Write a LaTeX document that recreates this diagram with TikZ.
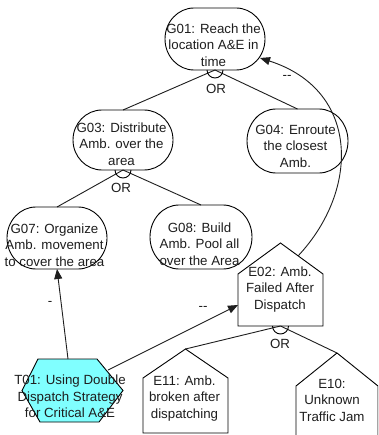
\documentclass[tikz,border=0pt]{standalone}
\usepackage{fontspec}
\setmainfont{Liberation Sans}
\usetikzlibrary{arrows.meta,calc}
\definecolor{tcyan}{RGB}{128,255,255}
\definecolor{ink}{RGB}{30,30,30}
\newcommand\stadout[3]{%
  \draw[outl] ([xshift=#2]#1.north west) -- ([xshift=-#2]#1.north east)
    arc[start angle=90,end angle=-90,x radius=#2,y radius=#3]
    -- ([xshift=#2]#1.south west)
    arc[start angle=270,end angle=90,x radius=#2,y radius=#3] -- cycle;}
\newcommand\houseout[2]{%
  \draw[outl] (#1.south west) -- ([yshift=-#2]#1.north west) -- (#1.north)
    -- ([yshift=-#2]#1.north east) -- (#1.south east) -- cycle;}
\newcommand\orarc[1]{%
  \draw[outl] ([xshift=-8pt]#1.south) arc[start angle=180,end angle=360,radius=8pt];}
\begin{document}
\begin{tikzpicture}[x=1pt,y=-1pt,
  txt/.style={font=\fontsize{13.3}{16.5}\selectfont, align=center, inner sep=0pt, text=ink},
  shapebox/.style={draw=none, inner sep=0pt, outer sep=0pt},
  outl/.style={draw=black, line width=0.9pt},
  conn/.style={draw=ink, line width=0.9pt},
  tip/.style={-{Triangle[length=10pt,width=8pt]}}
]
\useasboundingbox (0,0) rectangle (378,435);
\clip (0,0) rectangle (378,435);
\fill[white] (0,0) rectangle (378,435);

% goal boxes
\node[shapebox, minimum width=100pt, minimum height=62pt] (g01) at (215,39) {};
\node[shapebox, minimum width=100pt, minimum height=60pt] (g03) at (123,140) {};
\node[shapebox, minimum width=101pt, minimum height=64pt] (g04) at (297.5,141) {};
\node[shapebox, minimum width=100pt, minimum height=62pt] (g07) at (57,238) {};
\node[shapebox, minimum width=102pt, minimum height=64pt] (g08) at (201,237) {};
% events
\node[shapebox, minimum width=85pt, minimum height=83pt] (e02) at (280.5,284.5) {};
\node[shapebox, minimum width=85pt, minimum height=84pt] (e11) at (185.5,391) {};
\node[shapebox, minimum width=82pt, minimum height=87pt] (e10) at (337,396.5) {};
% task
\node[shapebox, minimum width=101pt, minimum height=63pt] (t01) at (72.5,390.5) {};

% connectors (behind shapes)
\draw[conn] (g01.south) -- (g03.north);
\draw[conn] (g01.south) -- (g04.north);
\draw[conn] (g03.south) -- (g07.north);
\draw[conn] (g03.south) -- (g08.north);
\draw[conn] (e02.south) -- (e11.north);
\draw[conn] (e02.south) -- (e10.north);

% outlines
\stadout{g01}{29pt}{31pt}
\stadout{g03}{29pt}{30pt}
\stadout{g04}{29pt}{32pt}
\stadout{g07}{29pt}{31pt}
\stadout{g08}{29pt}{32pt}
\houseout{e02}{31pt}
\houseout{e11}{29pt}
\houseout{e10}{33pt}
\filldraw[outl, fill=tcyan] (t01.west) -- ([xshift=16pt]t01.north west) -- ([xshift=-26pt]t01.north east)
  -- (t01.east) -- ([xshift=-24pt]t01.south east) -- ([xshift=18pt]t01.south west) -- cycle;

\orarc{g01}
\orarc{g03}
\orarc{e02}

% texts
\node[txt] (g01t) at (213.5,45) {G01: Reach the\\location A\&E in\\time};
\node[txt] (g03t) at (121.5,144) {G03: Distribute\\Amb. over the\\area};
\node[txt] (g04t) at (295.5,146) {G04: Enroute\\the closest\\Amb.};
\node[txt] (g07t) at (54.5,245) {G07: Organize\\Amb. movement\\to cover the area};
\node[txt] (g08t) at (199.5,244) {G08: Build\\Amb. Pool all\\over the Area};
\node[txt] (e02t) at (280,289.5) {E02: Amb.\\Failed After\\Dispatch};
\node[txt] (e11t) at (184.5,398.5) {E11: Amb.\\broken after\\dispatching};
\node[txt] (e10t) at (332,400) {E10:\\Unknown\\Traffic Jam};
\node[txt] (t01t) at (70,396.5) {T01: Using Double\\Dispatch Strategy\\for Critical A\&E};

\node[txt] (or1) at (216,89) {OR};
\node[txt] (or2) at (121,188) {OR};
\node[txt] (or3) at (280,344) {OR};

% contribution arrows
\draw[conn, tip] ([xshift=-4.5pt]t01.north) -- (g07.south);
\draw[conn, tip] ([xshift=-15pt,yshift=-11pt]t01.north east) -- ([yshift=-20.5pt]e02.west);
\draw[conn, tip] ([xshift=17.5pt,yshift=-13pt]e02.north) .. controls (360,190) and (360,90) .. ([xshift=-5pt,yshift=-19pt]g01.east);

\node[txt] (l1) at (50,303) {-};
\node[txt] (l2) at (203,308) {-{}-};
\node[txt] (l3) at (287,77) {-{}-};
\end{tikzpicture}
\end{document}
